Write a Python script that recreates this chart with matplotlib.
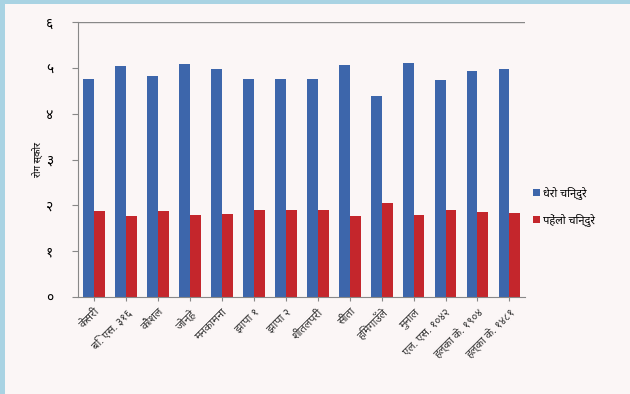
import matplotlib
matplotlib.use('Agg')
import numpy as np
import matplotlib.pyplot as plt
from matplotlib.patches import Rectangle

plt.rcParams['font.family'] = ['Noto Sans', 'DejaVu Sans']

categories = ['केसरी', 'बि. एस. ३१६', 'कौशल', 'जोन्हे', 'मनकामना', 'झापा १', 'झापा २',
              'शीतलपरी', 'सीता', 'हिमगाउँले', 'मुनाल', 'एल. एस. १०४२',
              'हल्का के. १९०४', 'हल्का के. १४८१']
dark_bindu = [4.76, 5.04, 4.83, 5.09, 4.98, 4.76, 4.76, 4.76, 5.07, 4.39, 5.11, 4.74, 4.93, 4.98]
yellow_bindu = [1.88, 1.77, 1.88, 1.79, 1.81, 1.90, 1.90, 1.90, 1.77, 2.05, 1.79, 1.90, 1.86, 1.83]
series_names = ['धेरो चिन्दुरे', 'पहेंलो चिन्दुरे']
yticklabels = ['०', '१', '२', '३', '४', '५', '६']

fig = plt.figure(figsize=(6.3, 3.94), dpi=100)
fig.patch.set_facecolor('#fbf6f6')
# scanned page edge on the left and top
fig.patches.append(Rectangle((0, 0), 0.008, 1, transform=fig.transFigure,
                             color='#a9d3e3', lw=0))
fig.patches.append(Rectangle((0, 0.99), 1, 0.01, transform=fig.transFigure,
                             color='#a9d3e3', lw=0))
ax = fig.add_axes([0.124, 0.246, 0.71, 0.698])
ax.set_facecolor('#fbf6f6')

x = np.arange(len(categories))
w = 0.34
ax.bar(x - w/2, dark_bindu, w, color='#3d66ab', label=series_names[0])
ax.bar(x + w/2, yellow_bindu, w, color='#c4262c', label=series_names[1])

ax.set_ylim(0, 6)
ax.set_xlim(-0.5, len(categories) - 0.5)
ax.set_yticks(range(7))
ax.set_yticklabels(yticklabels, fontsize=10)
ax.set_xticks(x)
ax.set_xticklabels(categories, rotation=45, ha='right', rotation_mode='anchor',
                   fontsize=8, fontweight='bold', color='#333333')
ax.set_ylabel('रोग स्कोर', fontsize=7, fontweight='bold', labelpad=2)
ax.axhline(6, color='#888888', lw=1)
for s in ['top', 'right']:
    ax.spines[s].set_visible(False)
ax.spines['left'].set_color('#888888')
ax.spines['bottom'].set_color('#888888')
ax.tick_params(axis='y', length=4, color='#888888', pad=14)
ax.tick_params(axis='x', length=3, color='#888888', pad=4)

ax.legend(loc='center left', bbox_to_anchor=(0.995, 0.33), frameon=False,
          prop={'size': 8, 'weight': 'bold'},
          handlelength=0.6, handleheight=0.6, handletextpad=0.3, labelspacing=1.3)

fig.savefig('out.png', dpi=100, facecolor=fig.get_facecolor())
